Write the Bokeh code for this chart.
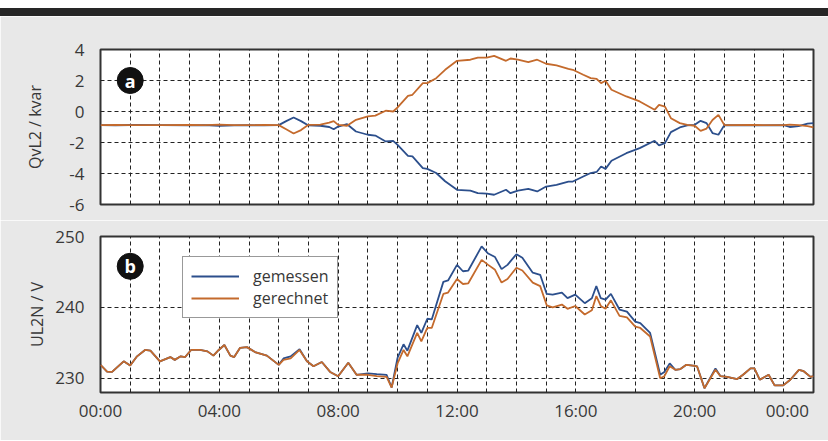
from bokeh.plotting import figure
from bokeh.layouts import column
from bokeh.models import Range1d, FixedTicker, Legend, LegendItem, ColumnDataSource, Div
from bokeh.embed import file_html
from bokeh.resources import INLINE
from bokeh.core.properties import value

# ---------------- data ----------------
# Panel a: reactive power QvL2 / kvar  (hours of day)
q_hours = [0.0, 0.5, 1.0, 2.0, 3.0, 3.5, 4.0, 4.5, 5.0, 5.5, 6.0, 6.25, 6.5, 6.75, 7.0, 7.4, 7.7, 7.85,
           8.0, 8.3, 8.6, 9.0, 9.25, 9.6, 9.85, 10.0, 10.35, 10.5, 10.85, 11.0, 11.3, 11.6, 12.0, 12.45,
           12.7, 13.0, 13.25, 13.65, 13.8, 14.05, 14.4, 14.7, 15.0, 15.35, 15.75, 15.9, 16.25, 16.5,
           16.7, 16.85, 17.0, 17.2, 17.7, 18.15, 18.65, 18.8, 19.0, 19.2, 19.5, 19.75, 20.0, 20.2,
           20.4, 20.6, 20.8, 21.0, 22.0, 23.0, 23.2, 23.5, 23.8, 24.0]
q_gemessen = [-0.88, -0.90, -0.87, -0.88, -0.90, -0.88, -0.92, -0.90, -0.88, -0.90, -0.88, -0.62, -0.39,
              -0.62, -0.90, -0.92, -1.00, -1.15, -0.97, -0.82, -1.29, -1.50, -1.55, -1.93, -1.89, -2.15,
              -2.86, -2.90, -3.65, -3.70, -3.97, -4.50, -5.05, -5.10, -5.27, -5.30, -5.37, -5.05, -5.27,
              -5.10, -4.99, -5.16, -4.84, -4.73, -4.52, -4.52, -4.19, -3.97, -3.90, -3.55, -3.70, -3.18,
              -2.69, -2.36, -1.89, -2.18, -2.04, -1.33, -1.03, -0.90, -0.86, -0.60, -0.75, -1.39, -1.50,
              -0.88, -0.90, -0.88, -1.00, -0.95, -0.78, -0.75]
q_gerechnet = [-0.88, -0.87, -0.88, -0.88, -0.86, -0.88, -0.85, -0.88, -0.88, -0.87, -0.88, -1.15, -1.42,
               -1.20, -0.86, -0.85, -0.72, -0.62, -0.86, -0.92, -0.54, -0.32, -0.27, 0.05, 0.00, 0.26,
               1.01, 1.08, 1.83, 1.83, 2.15, 2.69, 3.27, 3.34, 3.48, 3.48, 3.59, 3.27, 3.42, 3.34, 3.19,
               3.34, 3.08, 2.97, 2.75, 2.69, 2.37, 2.15, 2.10, 1.83, 1.98, 1.40, 0.97, 0.65, 0.11, 0.43,
               0.32, -0.43, -0.75, -0.86, -0.92, -1.25, -1.10, -0.55, -0.22, -0.88, -0.87, -0.88, -0.85,
               -0.88, -0.95, -1.03]

# Panel b: voltage UL2N / V
u_hours = [0.0, 0.22, 0.39, 0.78, 1.0, 1.23, 1.5, 1.68, 2.0, 2.35, 2.5, 2.7, 2.85, 3.05, 3.35, 3.6, 3.8,
           3.98, 4.17, 4.37, 4.5, 4.7, 4.93, 5.2, 5.6, 6.0, 6.16, 6.4, 6.7, 6.95, 7.17, 7.45, 7.73, 8.0,
           8.34, 8.62, 9.0, 9.3, 9.63, 9.8, 10.0, 10.2, 10.33, 10.66, 10.8, 11.0, 11.15, 11.54, 11.7, 12.0,
           12.2, 12.38, 12.83, 13.05, 13.28, 13.5, 13.7, 14.0, 14.2, 14.55, 14.8, 15.02, 15.22, 15.53,
           15.72, 15.98, 16.3, 16.54, 16.69, 16.84, 17.0, 17.18, 17.47, 17.72, 18.0, 18.17, 18.5, 18.84,
           18.98, 19.16, 19.35, 19.52, 19.72, 19.94, 20.08, 20.33, 20.7, 20.87, 21.09, 21.43, 21.63,
           21.88, 22.01, 22.19, 22.49, 22.69, 22.98, 23.22, 23.51, 23.67, 23.9, 24.0]
u_gemessen = [231.9, 230.95, 230.9, 232.4, 231.8, 233.1, 234.0, 233.9, 232.4, 233.0, 232.6, 233.1, 233.0,
              234.0, 234.0, 233.8, 233.2, 234.0, 234.7, 233.2, 233.0, 234.3, 234.4, 233.7, 233.2, 231.9,
              232.8, 233.1, 234.1, 232.4, 231.7, 232.3, 230.9, 230.3, 232.2, 230.5, 230.7, 230.6, 230.5,
              228.7, 232.9, 234.8, 233.9, 237.5, 236.4, 238.4, 238.3, 243.6, 243.8, 246.0, 245.1, 245.2,
              248.6, 247.6, 247.1, 245.4, 246.0, 247.5, 247.0, 244.9, 244.6, 241.9, 241.8, 242.1, 241.3,
              241.8, 240.6, 241.3, 243.0, 241.3, 241.1, 241.9, 239.7, 239.4, 238.0, 237.8, 236.4, 230.5,
              230.9, 232.1, 231.2, 231.3, 231.9, 231.8, 231.7, 228.6, 231.4, 230.3, 230.2, 229.9, 230.5,
              231.4, 231.4, 229.8, 230.5, 229.0, 229.0, 229.8, 231.2, 231.0, 230.2, 230.3]
u_gerechnet = [231.9, 230.95, 230.9, 232.4, 231.8, 233.1, 234.0, 233.9, 232.4, 233.0, 232.6, 233.1, 233.0,
               234.0, 234.0, 233.8, 233.2, 234.0, 234.7, 233.2, 233.0, 234.3, 234.4, 233.7, 233.2, 231.9,
               232.6, 232.8, 234.0, 232.4, 231.7, 232.3, 230.9, 230.3, 232.2, 230.5, 230.5, 230.3, 230.2,
               228.7, 232.1, 234.0, 233.1, 236.4, 235.2, 237.1, 237.1, 241.9, 242.1, 244.0, 243.3, 243.4,
               246.7, 246.0, 245.3, 243.5, 244.0, 245.6, 245.2, 243.5, 243.0, 240.3, 240.0, 240.4, 239.8,
               240.2, 239.0, 239.6, 241.6, 240.2, 239.8, 241.0, 238.8, 238.6, 237.3, 237.1, 235.9, 230.0,
               230.3, 231.7, 231.2, 231.3, 231.9, 231.8, 231.7, 228.6, 231.2, 230.3, 230.2, 229.9, 230.5,
               231.4, 231.4, 229.8, 230.5, 229.0, 229.0, 229.8, 231.2, 231.0, 230.2, 230.3]

x_ticks = [0, 4, 8, 12, 16, 20, 24]
x_tick_labels = ["00:00", "04:00", "08:00", "12:00", "16:00", "20:00", "00:00"]
q_ticks = [-6, -4, -2, 0, 2, 4]
u_ticks = [230, 240, 250]
series_names = ["gemessen", "gerechnet"]
panel_letters = ["a", "b"]
# panel-letter anchor positions (hour, value)
a_anchor = (1.0, 2.0)
b_anchor = (1.0, 245.8)

# ---------------- style ----------------
BLUE = "#2c4f8c"
ORANGE = "#c46a2c"
BG = "#e8e8e8"
FONT = "Open Sans"
TXT = "#383838"
W = 828
FIGSP = "\u2007"  # figure space, used to keep the last time label inside the chart


def style(p, yticks, ylabel, label_standoff):
    p.background_fill_color = "white"
    p.border_fill_color = BG
    p.outline_line_color = "#333333"
    p.outline_line_width = 2
    p.xgrid.ticker = FixedTicker(ticks=list(range(1, 24)))
    p.ygrid.ticker = FixedTicker(ticks=yticks)
    for g in (p.xgrid[0], p.ygrid[0]):
        g.grid_line_color = "#222222"
        g.grid_line_dash = "4 3"
        g.grid_line_width = 1
        g.grid_line_alpha = 1.0
    ax = p.yaxis[0]
    ax.ticker = FixedTicker(ticks=yticks)
    ax.major_label_overrides = {t: str(t) for t in yticks}
    ax.axis_line_color = None
    ax.major_tick_line_color = None
    ax.minor_tick_line_color = None
    ax.major_label_standoff = 10
    ax.major_label_text_font = FONT
    ax.major_label_text_font_size = "17px"
    ax.major_label_text_color = TXT
    ax.axis_label = ylabel
    ax.axis_label_text_font = FONT
    ax.axis_label_text_font_size = "16px"
    ax.axis_label_text_font_style = "normal"
    ax.axis_label_text_color = TXT
    ax.axis_label_standoff = label_standoff


# dark band on top (white strip above it)
band = Div(width=W, height=16,
           text='<div style="margin:8px 0 0 0;height:8px;width:%dpx;background:#262626"></div>' % W,
           styles={"margin": "0", "padding": "0"})

# ---- panel a ----
p1 = figure(width=W, height=204, output_backend="svg", toolbar_location=None,
            x_range=Range1d(0, 24), y_range=Range1d(-6, 4),
            min_border_left=100, min_border_right=15, min_border_top=33, min_border_bottom=16)
style(p1, q_ticks, "QvL2 / kvar", 20)
p1.xaxis.visible = False
src1 = ColumnDataSource(dict(h=q_hours, m=q_gemessen, r=q_gerechnet))
p1.line("h", "m", source=src1, color=BLUE, line_width=1.8)
p1.line("h", "r", source=src1, color=ORANGE, line_width=1.8)
p1.scatter([a_anchor[0]], [a_anchor[1]], size=26, marker="circle", color="#111111")
p1.text([a_anchor[0]], [a_anchor[1]], text=[panel_letters[0]], text_color="white",
        text_font=value(FONT), text_font_style="bold", text_font_size="18px",
        text_align="center", text_baseline="middle")

# ---- panel b ----
p2 = figure(width=W, height=220, output_backend="svg", toolbar_location=None,
            x_range=Range1d(0, 24), y_range=Range1d(228, 250),
            min_border_left=100, min_border_right=15, min_border_top=16, min_border_bottom=48)
style(p2, u_ticks, "UL2N / V", 4)
p2.ygrid.ticker = FixedTicker(ticks=[230, 240])
xa = p2.xaxis[0]
xa.ticker = FixedTicker(ticks=x_ticks)
overrides = dict(zip(x_ticks, x_tick_labels))
overrides[x_ticks[-1]] = x_tick_labels[-1] + FIGSP * 2
xa.major_label_overrides = overrides
xa.axis_line_color = None
xa.major_tick_line_color = None
xa.minor_tick_line_color = None
xa.major_label_standoff = 0
xa.major_label_text_font = FONT
xa.major_label_text_font_size = "17px"
xa.major_label_text_color = TXT

src2 = ColumnDataSource(dict(h=u_hours, m=u_gemessen, r=u_gerechnet))
l_m = p2.line("h", "m", source=src2, color=BLUE, line_width=1.8)
l_r = p2.line("h", "r", source=src2, color=ORANGE, line_width=1.8)
p2.scatter([b_anchor[0]], [b_anchor[1]], size=26, marker="circle", color="#111111")
p2.text([b_anchor[0]], [b_anchor[1]], text=[panel_letters[1]], text_color="white",
        text_font=value(FONT), text_font_style="bold", text_font_size="18px",
        text_align="center", text_baseline="middle")

legend = Legend(items=[LegendItem(label=series_names[0], renderers=[l_m]),
                       LegendItem(label=series_names[1], renderers=[l_r])],
                location=(82, 74), orientation="vertical")
legend.margin = 0
legend.padding = 8
legend.spacing = 0
legend.glyph_width = 48
legend.glyph_height = 20
legend.label_height = 20
legend.label_standoff = 14
legend.label_text_font = FONT
legend.label_text_font_size = "16px"
legend.label_text_color = TXT
legend.border_line_color = "#333333"
legend.border_line_width = 1.5
legend.background_fill_color = "white"
legend.background_fill_alpha = 1.0
p2.add_layout(legend)

layout = column(band, p1, p2, spacing=0)
open("out.html", "w").write(file_html(layout, INLINE))
